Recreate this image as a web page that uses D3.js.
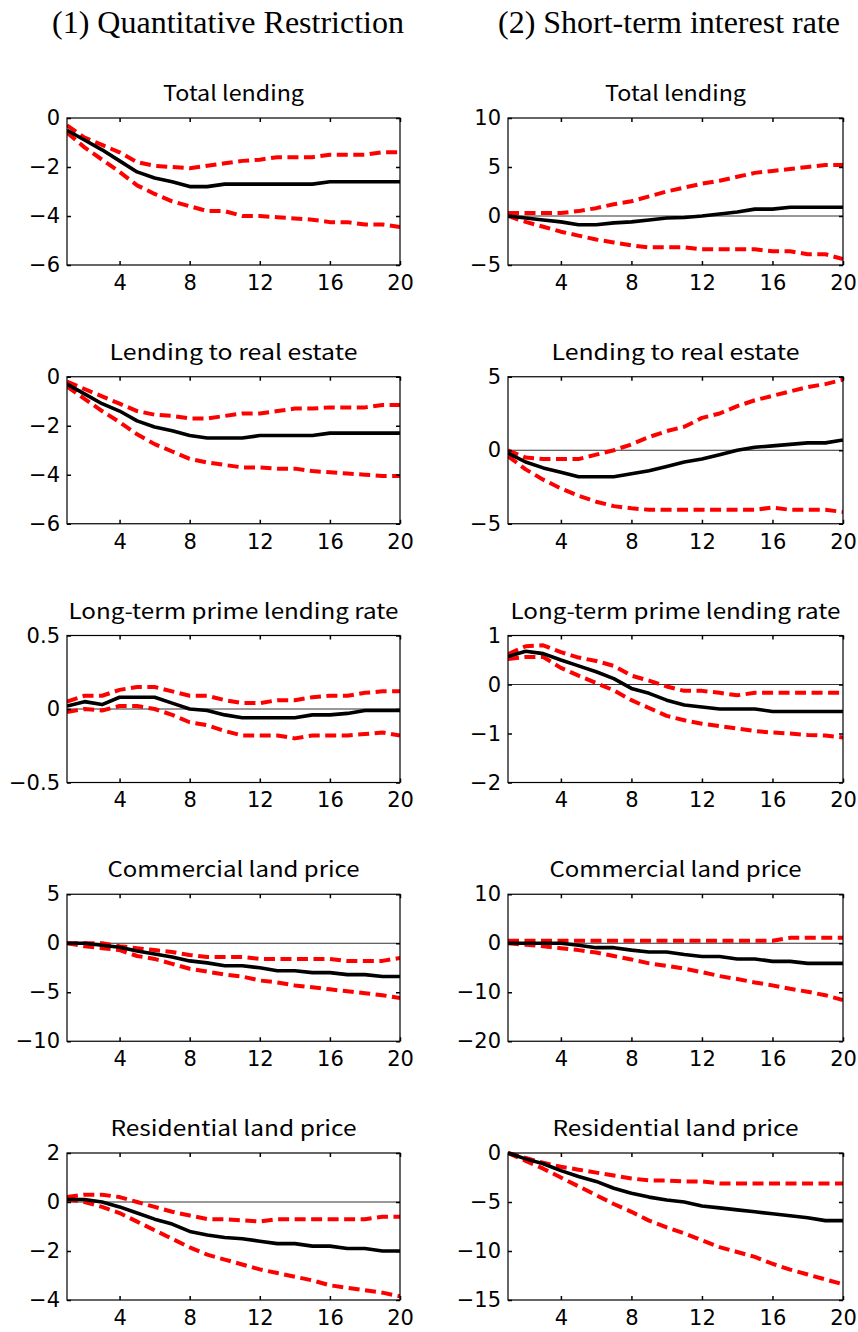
<!DOCTYPE html>
<html>
<head>
<meta charset="utf-8">
<script src="https://cdn.jsdelivr.net/npm/d3@7"></script>
<style>
  html, body { margin: 0; padding: 0; background: #fff; }
  svg { display: block; }
</style>
</head>
<body>
<div id="chart"></div>
<script>
// Impulse responses over 20 quarters: median (black) with confidence bands (red dashed)
const horizons = d3.range(1, 21);
const xTicks = [4, 8, 12, 16, 20];
const columnTitles = ["(1) Quantitative Restriction", "(2) Short-term interest rate"];
const panelTitles = ["Total lending", "Lending to real estate", "Long-term prime lending rate",
                     "Commercial land price", "Residential land price"];

// (1) Quantitative Restriction
const qrTotalMid = [-0.5,-0.9,-1.3,-1.75,-2.2,-2.45,-2.6,-2.8,-2.8,-2.7,-2.7,-2.7,-2.7,-2.7,-2.7,-2.6,-2.6,-2.6,-2.6,-2.6];
const qrTotalHi  = [-0.3,-0.8,-1.1,-1.4,-1.8,-1.95,-2.0,-2.05,-1.95,-1.85,-1.75,-1.7,-1.6,-1.6,-1.6,-1.5,-1.5,-1.5,-1.4,-1.4];
const qrTotalLo  = [-0.6,-1.2,-1.7,-2.2,-2.75,-3.1,-3.4,-3.6,-3.8,-3.8,-4.0,-4.0,-4.05,-4.1,-4.15,-4.25,-4.25,-4.35,-4.35,-4.45];

const qrRealMid = [-0.3,-0.7,-1.1,-1.4,-1.8,-2.05,-2.2,-2.4,-2.5,-2.5,-2.5,-2.4,-2.4,-2.4,-2.4,-2.3,-2.3,-2.3,-2.3,-2.3];
const qrRealHi  = [-0.2,-0.5,-0.8,-1.1,-1.4,-1.55,-1.6,-1.7,-1.7,-1.6,-1.5,-1.5,-1.4,-1.3,-1.3,-1.25,-1.25,-1.25,-1.15,-1.15];
const qrRealLo  = [-0.4,-0.9,-1.4,-1.85,-2.35,-2.75,-3.05,-3.35,-3.5,-3.6,-3.7,-3.7,-3.75,-3.75,-3.85,-3.9,-3.95,-4.0,-4.05,-4.05];

const qrPrimeMid = [0.02,0.05,0.03,0.08,0.08,0.08,0.04,0.0,-0.01,-0.04,-0.06,-0.06,-0.06,-0.06,-0.04,-0.04,-0.03,-0.01,-0.01,-0.01];
const qrPrimeHi  = [0.05,0.09,0.09,0.13,0.15,0.15,0.12,0.09,0.09,0.06,0.04,0.04,0.06,0.06,0.08,0.09,0.09,0.11,0.12,0.12];
const qrPrimeLo  = [-0.02,0.0,-0.01,0.02,0.02,0.0,-0.04,-0.09,-0.11,-0.15,-0.18,-0.18,-0.18,-0.2,-0.18,-0.18,-0.18,-0.17,-0.16,-0.18];

const qrCommMid = [0,0,-0.2,-0.4,-0.8,-1.1,-1.4,-1.8,-2.0,-2.3,-2.3,-2.5,-2.8,-2.8,-3.0,-3.0,-3.2,-3.2,-3.4,-3.4];
const qrCommHi  = [0,0,0,-0.3,-0.5,-0.7,-0.9,-1.2,-1.4,-1.4,-1.4,-1.6,-1.6,-1.6,-1.6,-1.6,-1.8,-1.8,-1.8,-1.5];
const qrCommLo  = [0,-0.3,-0.5,-0.7,-1.3,-1.6,-2.1,-2.6,-2.9,-3.2,-3.4,-3.8,-4.0,-4.3,-4.5,-4.7,-4.9,-5.1,-5.3,-5.6];

const qrResMid = [0.1,0.1,0.0,-0.2,-0.45,-0.7,-0.9,-1.2,-1.35,-1.45,-1.5,-1.6,-1.7,-1.7,-1.8,-1.8,-1.9,-1.9,-2.0,-2.0];
const qrResHi  = [0.2,0.3,0.3,0.2,0.0,-0.2,-0.4,-0.55,-0.7,-0.7,-0.75,-0.8,-0.7,-0.7,-0.7,-0.7,-0.7,-0.7,-0.6,-0.6];
const qrResLo  = [0.1,0.0,-0.2,-0.45,-0.8,-1.15,-1.5,-1.85,-2.15,-2.35,-2.55,-2.75,-2.9,-3.05,-3.2,-3.4,-3.5,-3.6,-3.7,-3.85];

// (2) Short-term interest rate
const irTotalMid = [0,-0.2,-0.4,-0.6,-0.9,-0.9,-0.7,-0.6,-0.4,-0.2,-0.15,0,0.2,0.4,0.7,0.7,0.9,0.9,0.9,0.9];
const irTotalHi  = [0.3,0.3,0.3,0.3,0.5,0.8,1.2,1.5,2.0,2.5,2.9,3.3,3.6,4.0,4.4,4.6,4.8,5.0,5.2,5.2];
const irTotalLo  = [0,-0.6,-1.1,-1.6,-2.0,-2.4,-2.7,-3.0,-3.2,-3.2,-3.2,-3.4,-3.4,-3.4,-3.4,-3.6,-3.6,-3.9,-3.9,-4.4];

const irRealMid = [-0.2,-0.8,-1.2,-1.5,-1.8,-1.8,-1.8,-1.6,-1.4,-1.1,-0.8,-0.6,-0.3,0,0.2,0.3,0.4,0.5,0.5,0.7];
const irRealHi  = [0,-0.5,-0.6,-0.6,-0.6,-0.3,0,0.4,0.9,1.3,1.6,2.2,2.5,3.0,3.4,3.7,4.0,4.3,4.5,4.8];
const irRealLo  = [-0.4,-1.3,-2.0,-2.6,-3.1,-3.5,-3.8,-3.95,-4.05,-4.05,-4.05,-4.05,-4.05,-4.05,-4.05,-3.9,-4.05,-4.05,-4.05,-4.2];

const irPrimeMid = [0.57,0.68,0.63,0.5,0.38,0.26,0.12,-0.08,-0.18,-0.32,-0.42,-0.46,-0.5,-0.5,-0.5,-0.55,-0.55,-0.55,-0.55,-0.55];
const irPrimeHi  = [0.62,0.78,0.8,0.66,0.55,0.48,0.38,0.18,0.08,-0.04,-0.13,-0.13,-0.17,-0.22,-0.17,-0.17,-0.17,-0.17,-0.17,-0.17];
const irPrimeLo  = [0.52,0.56,0.56,0.34,0.18,0.03,-0.12,-0.32,-0.48,-0.64,-0.73,-0.8,-0.85,-0.9,-0.95,-0.98,-1.0,-1.03,-1.04,-1.08];

const irCommMid = [0,0,0,0,-0.4,-0.9,-0.9,-1.4,-1.8,-1.8,-2.3,-2.7,-2.7,-3.2,-3.2,-3.7,-3.7,-4.1,-4.1,-4.1];
const irCommHi  = [0.5,0.5,0.5,0.5,0.5,0.5,0.5,0.5,0.5,0.5,0.5,0.5,0.5,0.5,0.5,0.5,1.1,1.1,1.1,1.1];
const irCommLo  = [0,-0.3,-0.6,-1.0,-1.4,-1.9,-2.6,-3.3,-4.1,-4.6,-5.2,-5.9,-6.7,-7.3,-8.0,-8.6,-9.3,-9.9,-10.6,-11.6];

const irResMid = [0,-0.6,-1.1,-1.8,-2.4,-2.9,-3.6,-4.1,-4.5,-4.8,-5.0,-5.4,-5.6,-5.8,-6.0,-6.2,-6.4,-6.6,-6.9,-6.9];
const irResHi  = [0,-0.5,-1.0,-1.4,-1.7,-2.0,-2.3,-2.6,-2.8,-2.8,-2.9,-2.9,-3.1,-3.1,-3.1,-3.1,-3.1,-3.1,-3.1,-3.1];
const irResLo  = [0,-0.8,-1.6,-2.5,-3.4,-4.3,-5.2,-6.0,-6.9,-7.6,-8.2,-8.9,-9.6,-10.1,-10.6,-11.3,-11.9,-12.4,-12.9,-13.4];

// Y tick values per panel (column 1, column 2)
const qrYTicks = [[-6,-4,-2,0], [-6,-4,-2,0], [-0.5,0,0.5], [-10,-5,0,5], [-4,-2,0,2]];
const irYTicks = [[-5,0,5,10], [-5,0,5], [-2,-1,0,1], [-20,-10,0,10], [-15,-10,-5,0]];

const qrSeries = [
  [qrTotalMid, qrTotalHi, qrTotalLo], [qrRealMid, qrRealHi, qrRealLo],
  [qrPrimeMid, qrPrimeHi, qrPrimeLo], [qrCommMid, qrCommHi, qrCommLo],
  [qrResMid, qrResHi, qrResLo]
];
const irSeries = [
  [irTotalMid, irTotalHi, irTotalLo], [irRealMid, irRealHi, irRealLo],
  [irPrimeMid, irPrimeHi, irPrimeLo], [irCommMid, irCommHi, irCommLo],
  [irResMid, irResHi, irResLo]
];

const W = 858, H = 1332;
const svg = d3.select("#chart").append("svg").attr("width", W).attr("height", H);

const colLeft = [67, 508], colRight = [400, 843];
const rowTop0 = 118, rowStep = 258.75, plotH = 147;
const headerWidths = [352, 342];
const titleWidths = [141, 248, 330, 252, 246];

// column headers
columnTitles.forEach((t, c) => {
  svg.append("text")
    .attr("x", c === 0 ? 228 : 669).attr("y", 33)
    .attr("text-anchor", "middle")
    .attr("font-family", "'Liberation Serif', 'Times New Roman', serif")
    .attr("font-size", 31)
    .attr("textLength", headerWidths[c]).attr("lengthAdjust", "spacingAndGlyphs")
    .text(t);
});

const fmt = v => {
  const s = (Math.abs(v) < 1e-9 ? "0" : String(v));
  return s.replace("-", "\u2212");
};

function drawPanel(col, row, series, yTicks) {
  const x0 = colLeft[col], x1 = colRight[col];
  const y0 = rowTop0 + row * rowStep, y1 = y0 + plotH;
  const x = d3.scaleLinear().domain([1, 20]).range([x0, x1]);
  const y = d3.scaleLinear().domain([yTicks[0], yTicks[yTicks.length - 1]]).range([y1, y0]);
  const g = svg.append("g");

  // panel title
  g.append("text")
    .attr("x", (x0 + x1) / 2).attr("y", y0 - 17)
    .attr("text-anchor", "middle")
    .attr("font-family", "'Noto Sans CJK JP', 'DejaVu Sans', sans-serif")
    .attr("font-size", 21)
    .attr("textLength", titleWidths[row]).attr("lengthAdjust", "spacingAndGlyphs")
    .text(panelTitles[row]);

  // zero reference line
  if (y.domain()[0] < 0 && y.domain()[1] > 0) {
    g.append("line")
      .attr("x1", x0).attr("x2", x1).attr("y1", y(0)).attr("y2", y(0))
      .attr("stroke", "#333").attr("stroke-width", 1);
  }

  const clipId = `clip-${col}-${row}`;
  g.append("clipPath").attr("id", clipId).append("rect")
    .attr("x", x0).attr("y", y0 - 2).attr("width", x1 - x0).attr("height", plotH + 4);

  const line = d3.line().x((d, i) => x(horizons[i])).y(d => y(d));
  const lines = g.append("g").attr("clip-path", `url(#${clipId})`);
  const [mid, hi, lo] = series;
  [hi, lo].forEach(s => {
    lines.append("path").datum(s).attr("d", line)
      .attr("fill", "none").attr("stroke", "#ff0000")
      .attr("stroke-width", 4).attr("stroke-dasharray", "11,5.5")
      .attr("stroke-linejoin", "round");
  });
  lines.append("path").datum(mid).attr("d", line)
    .attr("fill", "none").attr("stroke", "#000")
    .attr("stroke-width", 3.6).attr("stroke-linejoin", "round");

  // axes with inward ticks on all four sides
  const tickLen = 4;
  const xb = g.append("g").attr("transform", `translate(0,${y1})`)
    .call(d3.axisBottom(x).tickValues(xTicks).tickSizeInner(-tickLen).tickSizeOuter(0).tickPadding(10));
  xb.selectAll("text").attr("font-family", "'DejaVu Sans', sans-serif").attr("font-size", 21)
    .attr("fill", "#000").attr("dy", "0.71em");
  const xt = g.append("g").attr("transform", `translate(0,${y0})`)
    .call(d3.axisTop(x).tickValues(xTicks).tickSizeInner(-tickLen).tickSizeOuter(0).tickFormat(""));
  const yl = g.append("g").attr("transform", `translate(${x0},0)`)
    .call(d3.axisLeft(y).tickValues(yTicks).tickSizeInner(-tickLen).tickSizeOuter(0)
      .tickPadding(7).tickFormat(fmt));
  yl.selectAll("text").attr("font-family", "'DejaVu Sans', sans-serif").attr("font-size", 21)
    .attr("fill", "#000");
  const yr = g.append("g").attr("transform", `translate(${x1},0)`)
    .call(d3.axisRight(y).tickValues(yTicks).tickSizeInner(-tickLen).tickSizeOuter(0).tickFormat(""));
  [xb, xt, yl, yr].forEach(a => {
    a.select(".domain").remove();
    a.selectAll(".tick line").attr("stroke", "#000").attr("stroke-width", 1.5);
  });

  // plot frame
  g.append("rect")
    .attr("x", x0).attr("y", y0).attr("width", x1 - x0).attr("height", plotH)
    .attr("fill", "none").attr("stroke", "#000").attr("stroke-width", 1.2);
}

for (let r = 0; r < 5; r++) {
  drawPanel(0, r, qrSeries[r], qrYTicks[r]);
  drawPanel(1, r, irSeries[r], irYTicks[r]);
}
</script>
</body>
</html>
